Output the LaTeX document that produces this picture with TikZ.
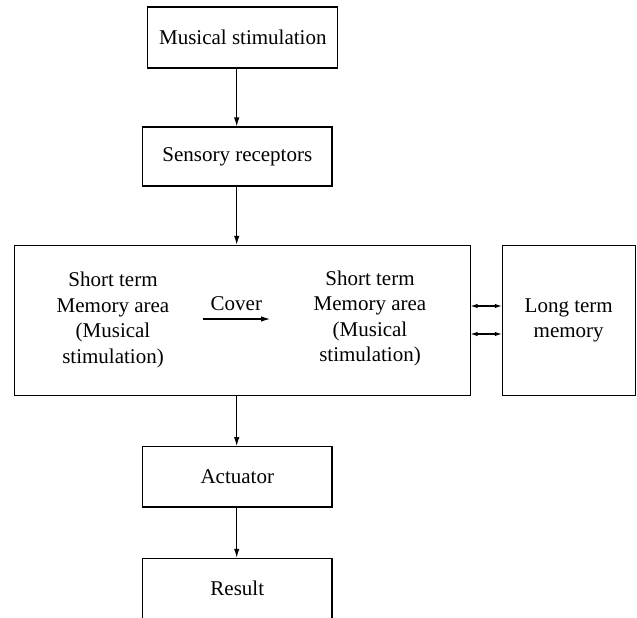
\documentclass[tikz,border=0pt]{standalone}
\usepackage{fontspec}
\setmainfont{Liberation Serif}
\usetikzlibrary{arrows.meta}
\tikzset{
  blk/.style={draw, line width=1.1pt, inner sep=0pt, align=center},
  txt/.style={inner sep=0pt, align=center},
  flow/.style={line width=1.1pt, -{Latex[length=9pt,width=5.5pt]}},
  both/.style={line width=1.1pt, {Latex[length=7pt,width=4.5pt]}-{Latex[length=7pt,width=4.5pt]}}
}
\begin{document}
\begin{tikzpicture}[x=1pt, y=-1pt, font=\fontsize{21}{25.5}\selectfont]
  \useasboundingbox (0,0) rectangle (637,618);
  % boxes
  \node[blk, minimum width=190pt, minimum height=61pt] (ms) at (242.8,37.5) {Musical stimulation};
  \node[blk, minimum width=189.3pt, minimum height=59pt] (sr) at (237.3,156.5) {Sensory receptors};
  \node[blk, minimum width=455.7pt, minimum height=150.4pt] (stm) at (242.2,320.5) {};
  \node[blk, minimum width=132.7pt, minimum height=150.7pt] (ltm) at (568.7,320.4) {Long term\\memory};
  \node[blk, minimum width=189.3pt, minimum height=60.3pt] (act) at (237.3,476.8) {Actuator};
  \node[blk, minimum width=189.3pt, minimum height=61pt] (res) at (237.3,588.8) {Result};
  % inside the memory box
  \node[txt] (stmL) at (113,319.7) {Short term\\Memory area\\(Musical\\stimulation)};
  \node[txt] (stmR) at (370,318.5) {Short term\\Memory area\\(Musical\\stimulation)};
  \coordinate (covA) at (202.7,319);
  \coordinate (covB) at (270,319);
  \coordinate (axis) at (236.7,0);
  \coordinate (upY) at (0,306);
  \coordinate (dnY) at (0,334);
  % connectors
  \draw[flow] (ms.south -| axis) -- (sr.north -| axis);
  \draw[flow] (sr.south -| axis) -- (stm.north -| axis);
  \draw[flow] (stm.south -| axis) -- (act.north -| axis);
  \draw[flow] (act.south -| axis) -- (res.north -| axis);
  \draw[flow] (covA) -- node[txt, above=8pt] {Cover} (covB);
  \draw[both] (stm.east |- upY) -- (ltm.west |- upY);
  \draw[both] (stm.east |- dnY) -- (ltm.west |- dnY);
\end{tikzpicture}
\end{document}
